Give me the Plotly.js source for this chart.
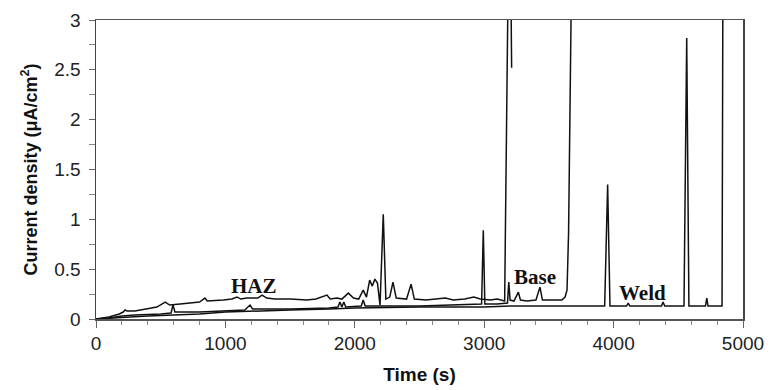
<!DOCTYPE html>
<html>
<head>
<meta charset="utf-8">
<script src="https://cdn.plot.ly/plotly-3.0.1.min.js"></script>
<style>html,body{margin:0;padding:0;background:#fff;}#chart{width:770px;height:390px;}</style>
</head>
<body>
<div id="chart"></div>
<script>
// HAZ specimen (upper curve at early times, pits near 3180 s)
const hazTime = [0,100,180,210,225,240,300,400,470,535,570,650,725,800,842,860,985,1050,1090,1120,1165,1250,1283,1320,1383,1500,1630,1700,1785,1810,1862,1900,1950,1990,2030,2065,2090,2115,2135,2155,2175,2195,2220,2240,2270,2295,2320,2400,2435,2460,2550,2650,2700,2760,2850,2920,2970,3050,3100,3158,3185,3205,3212];
const hazCurrent = [0,0.02,0.05,0.07,0.09,0.08,0.08,0.1,0.12,0.17,0.14,0.15,0.16,0.17,0.21,0.18,0.19,0.2,0.22,0.2,0.21,0.21,0.24,0.21,0.2,0.2,0.19,0.2,0.24,0.2,0.21,0.2,0.26,0.21,0.2,0.29,0.22,0.39,0.33,0.4,0.36,0.14,1.05,0.2,0.22,0.37,0.21,0.2,0.35,0.2,0.19,0.2,0.21,0.19,0.2,0.22,0.2,0.19,0.2,0.18,3.4,3.5,2.52];

// Base metal specimen
const baseTime = [0,100,200,300,500,580,595,610,800,1000,1150,1190,1210,1500,1800,1870,1885,1900,1915,1930,2050,2065,2080,2500,2750,2970,2980,2993,3005,3100,3180,3190,3200,3230,3264,3280,3330,3400,3431,3450,3600,3625,3640,3652,3660,3671,3680];
const baseCurrent = [0,0.01,0.03,0.04,0.05,0.06,0.14,0.07,0.07,0.08,0.09,0.14,0.1,0.1,0.11,0.12,0.17,0.12,0.17,0.12,0.13,0.19,0.13,0.13,0.14,0.15,0.15,0.89,0.15,0.15,0.16,0.37,0.19,0.18,0.27,0.19,0.18,0.19,0.32,0.19,0.19,0.22,0.29,0.86,1.86,3.0,3.5];

// Weld metal specimen
const weldTime = [0,100,200,400,600,800,1000,1200,1500,1800,2000,2500,3000,3200,3931,3954,3972,4100,4113,4125,4370,4382,4395,4544,4565,4582,4710,4720,4730,4838,4845];
const weldCurrent = [0,0.005,0.015,0.03,0.04,0.05,0.07,0.08,0.09,0.1,0.11,0.12,0.12,0.13,0.13,1.35,0.13,0.13,0.16,0.13,0.13,0.17,0.13,0.13,2.82,0.13,0.13,0.21,0.13,0.13,3.5];

const labels = ["HAZ", "Base", "Weld"];
const labelTime = [1220, 3392, 4227];
const labelCurrent = [0.33, 0.42, 0.26];

const lineStyle = {color: '#111', width: 1.5};
const traces = [
  {x: hazTime, y: hazCurrent, name: labels[0]},
  {x: baseTime, y: baseCurrent, name: labels[1]},
  {x: weldTime, y: weldCurrent, name: labels[2]}
].map(t => Object.assign(t, {type: 'scatter', mode: 'lines', line: lineStyle, hoverinfo: 'skip'}));

const annotations = labels.map((t, i) => ({
  x: labelTime[i], y: labelCurrent[i], xref: 'x', yref: 'y', text: '<b>' + t + '</b>',
  showarrow: false, font: {family: 'Liberation Serif, Times New Roman, serif', size: 21, color: '#111'}
}));

const tickFont = {family: 'Liberation Sans, Arial, sans-serif', size: 19, color: '#222'};
const layout = {
  width: 770, height: 390,
  margin: {l: 96, r: 27, t: 20, b: 71},
  paper_bgcolor: '#fff', plot_bgcolor: '#fff',
  showlegend: false,
  xaxis: {
    range: [0, 5000], dtick: 1000, tick0: 0, showgrid: false, zeroline: false,
    showline: true, linecolor: '#555', linewidth: 1.5, mirror: true,
    ticks: 'outside', ticklen: 7, tickcolor: '#666', tickwidth: 1,
    minor: {dtick: 200, ticks: 'outside', ticklen: 4, tickcolor: '#888', showgrid: false},
    tickfont: tickFont,
    title: {text: '<b>Time (s)</b>', font: {family: 'Liberation Sans, Arial, sans-serif', size: 19, color: '#111'}, standoff: 14}
  },
  yaxis: {
    range: [0, 3], dtick: 0.5, tick0: 0, showgrid: false, zeroline: false,
    showline: true, linecolor: '#444', linewidth: 1.5, mirror: true,
    ticks: 'outside', ticklen: 6, tickcolor: '#666', tickwidth: 1,
    minor: {dtick: 0.25, ticks: 'outside', ticklen: 6, tickcolor: '#888', showgrid: false},
    tickfont: tickFont, ticklabelstandoff: 4,
    title: {text: '<b>Current density (μA/cm<sup>2</sup>)</b>', font: {family: 'Liberation Sans, Arial, sans-serif', size: 18, color: '#111'}, standoff: 12}
  },
  annotations: annotations
};

Plotly.newPlot('chart', traces, layout, {staticPlot: true, displayModeBar: false});
</script>
</body>
</html>
